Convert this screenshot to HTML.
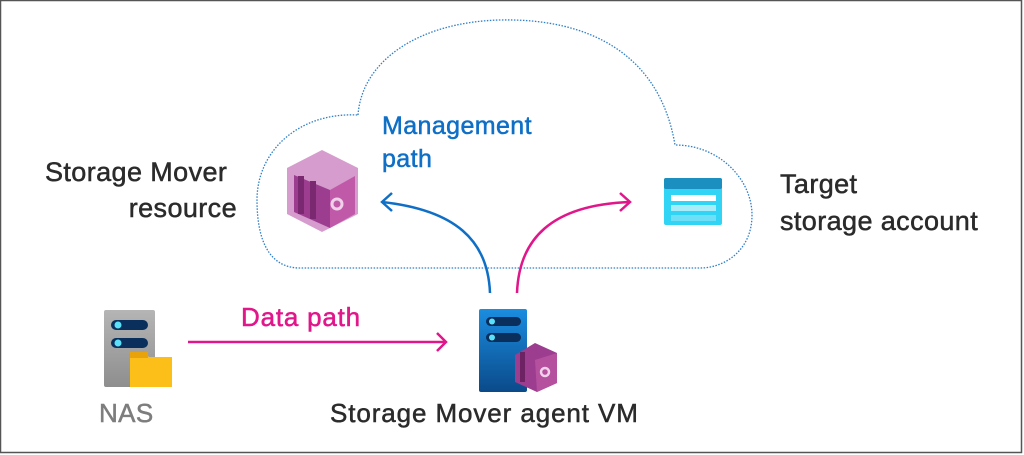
<!DOCTYPE html>
<html><head><meta charset="utf-8"><style>
html,body{margin:0;padding:0;background:#fff}
#c{position:relative;width:1024px;height:455px;overflow:hidden;font-family:"Liberation Sans",sans-serif}
.t{position:absolute;font-size:27px;color:#2b2b2b;line-height:1;white-space:nowrap;-webkit-text-stroke:0.5px currentColor;letter-spacing:0.4px}
</style></head><body><div id="c">
<svg width="1024" height="455" style="position:absolute;left:0;top:0">
<rect x="0.5" y="0.5" width="1021" height="452" fill="none" stroke="#555" stroke-width="1.5"/>
<path d="M358,115 C362,60 420,22 500,20 C590,18 660,55 675,145 C720,145 752,180 752,215 C752,250 725,268 700,268 L300,268 C272,268 257,245 257,200 C257,150 300,112 358,115 Z" fill="none" stroke="#2f7fc8" stroke-width="1.3" stroke-dasharray="1.5 1.5"/>
<polygon points="322,150 358,168 358,214 322,232 287,214 287,168" fill="#d69ccd"/>
<polygon points="294,175 330,190 330,228 294,212" fill="#9c3d8f"/>
<polygon points="330,190 355,176 355,214 330,228" fill="#c05aa8"/>
<rect x="298" y="176" width="6" height="38" fill="#7a2870"/>
<rect x="310" y="181" width="6" height="38" fill="#7a2870"/>
<circle cx="337" cy="204" r="5" fill="none" stroke="#f0d0ea" stroke-width="3"/>
<rect x="664" y="178" width="58" height="47" rx="2" fill="#32d4f5"/>
<rect x="664" y="178" width="58" height="11" rx="2" fill="#1b8fbf"/>
<rect x="671" y="195" width="45" height="6" fill="#fff"/>
<rect x="671" y="205" width="45" height="6" fill="#a8ecfa"/>
<rect x="671" y="215" width="45" height="6" fill="#6de0f8"/>
<path d="M490,293 C488,240 455,210 382,202" fill="none" stroke="#0f6fc6" stroke-width="2.5"/>
<path d="M392,193 L382,202 L392,211" fill="none" stroke="#0f6fc6" stroke-width="2.5"/>
<path d="M517,293 C519,240 550,205 630,202" fill="none" stroke="#e0168a" stroke-width="2.5"/>
<path d="M620,193 L630,202 L620,211" fill="none" stroke="#e0168a" stroke-width="2.5"/>
<line x1="188" y1="342" x2="446" y2="342" stroke="#e0168a" stroke-width="2.5"/>
<path d="M437,333 L446,342 L437,351" fill="none" stroke="#e0168a" stroke-width="2.5"/>
<defs><linearGradient id="b" x1="0" y1="0" x2="0" y2="1"><stop offset="0" stop-color="#1b8de0"/><stop offset="1" stop-color="#0a4a8a"/></linearGradient>
<linearGradient id="g" x1="0" y1="0" x2="0" y2="1"><stop offset="0" stop-color="#b5b5b5"/><stop offset="1" stop-color="#8e8e8e"/></linearGradient></defs>
<rect x="479" y="309" width="48" height="83" rx="2" fill="url(#b)"/>
<rect x="486" y="317" width="35" height="9" rx="4.5" fill="#0b2f5c"/>
<rect x="486" y="333" width="35" height="9" rx="4.5" fill="#0b2f5c"/>
<circle cx="492" cy="321.5" r="3" fill="#5ae0f8"/><circle cx="492" cy="337.5" r="3" fill="#5ae0f8"/>
<polygon points="515,355 535,343 557,353 557,383 537,392 515,382" fill="#9c3d8f"/>
<polygon points="535,360 557,353 557,383 537,392" fill="#b5509f"/>
<rect x="520" y="352" width="5" height="30" fill="#6d2363"/>
<circle cx="545" cy="372" r="4" fill="none" stroke="#f0d0ea" stroke-width="2.5"/>
<rect x="104" y="310" width="51" height="77" rx="2" fill="url(#g)"/>
<rect x="111" y="320" width="37" height="10" rx="5" fill="#0b2f5c"/>
<rect x="111" y="338" width="37" height="10" rx="5" fill="#0b2f5c"/>
<circle cx="118" cy="325" r="3.5" fill="#5ae0f8"/><circle cx="118" cy="343" r="3.5" fill="#5ae0f8"/>
<path d="M130,354 L146,354 L149,357 L172,357 L172,387 L130,387 Z" fill="#fcbf1a"/>
<rect x="130" y="352" width="18" height="6" fill="#e8a30c"/>
</svg>
<div class="t" style="left:45px;top:159px">Storage Mover</div>
<div class="t" style="right:787px;top:195px">resource</div>
<div class="t" style="left:382px;top:114px;color:#0f6fc6;font-size:25px">Management</div>
<div class="t" style="left:382px;top:147px;color:#0f6fc6;font-size:25px">path</div>
<div class="t" style="left:780px;top:171px">Target</div>
<div class="t" style="left:780px;top:208px">storage account</div>
<div class="t" style="left:241px;top:304px;color:#e0168a;font-size:26px;letter-spacing:0.8px">Data path</div>
<div class="t" style="left:99px;top:400px;color:#7d7d7d;font-size:26px">NAS</div>
<div class="t" style="left:330px;top:400px;font-size:26px;letter-spacing:0.9px">Storage Mover agent VM</div>
</div></body></html>
